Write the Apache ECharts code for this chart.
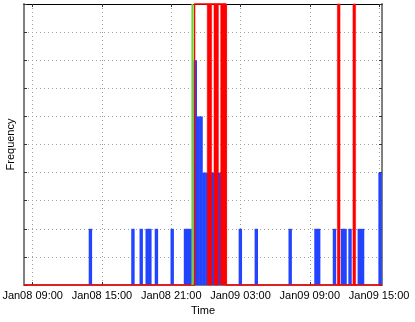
<!DOCTYPE html>
<html>
<head>
<meta charset="utf-8">
<script src="https://cdn.jsdelivr.net/npm/echarts@6/dist/echarts.min.js"></script>
<style>
html, body { margin: 0; padding: 0; background: #fff; }
#chart { width: 415px; height: 322px; }
</style>
</head>
<body>
<div id="chart"></div>
<script>
// axis range and tick labels
var timeMin = '2008-01-08 08:15';
var timeMax = '2008-01-09 15:15';
var timeTicks = ['2008-01-08 09:00', '2008-01-08 15:00', '2008-01-08 21:00',
	'2008-01-09 03:00', '2008-01-09 09:00', '2008-01-09 15:00'];

// blue histogram (15 min bins, bin centre time)
var binTimes = ['2008-01-08 14:00', '2008-01-08 17:41', '2008-01-08 18:24', '2008-01-08 18:55',
	'2008-01-08 19:09', '2008-01-08 19:43', '2008-01-08 21:05', '2008-01-08 22:14',
	'2008-01-08 22:29', '2008-01-08 22:44', '2008-01-08 23:05', '2008-01-08 23:20',
	'2008-01-08 23:35', '2008-01-08 23:50', '2008-01-09 00:05', '2008-01-09 00:20',
	'2008-01-09 00:35', '2008-01-09 00:50', '2008-01-09 01:05', '2008-01-09 01:20',
	'2008-01-09 02:59', '2008-01-09 04:22', '2008-01-09 07:18', '2008-01-09 09:32',
	'2008-01-09 09:46', '2008-01-09 11:08', '2008-01-09 11:50', '2008-01-09 12:03',
	'2008-01-09 12:29', '2008-01-09 13:17', '2008-01-09 13:34', '2008-01-09 15:05'];
var binCounts = [1, 1, 1, 1, 1, 1, 1, 1, 1, 1, 4, 3, 3, 2, 2, 2, 2, 2, 2, 2,
	1, 1, 1, 1, 1, 1, 1, 1, 1, 1, 1, 2];

// red alarm: outline span and solid spans
var redOutline = [['2008-01-08 23:01', '2008-01-09 01:44']];
var redSolid = [['2008-01-09 00:07', '2008-01-09 00:30'],
	['2008-01-09 00:42', '2008-01-09 01:05'],
	['2008-01-09 01:17', '2008-01-09 01:48'],
	['2008-01-09 11:23', '2008-01-09 11:37'],
	['2008-01-09 12:44', '2008-01-09 12:58']];

// green marker
var greenTime = '2008-01-08 22:50';

var yMax = 5;

function toMs(s) {
	return new Date(s.replace(' ', 'T')).getTime();
}
function pad(n) {
	return n < 10 ? '0' + n : '' + n;
}
var months = ['Jan', 'Feb', 'Mar', 'Apr', 'May', 'Jun', 'Jul', 'Aug', 'Sep', 'Oct', 'Nov', 'Dec'];

function spanLine(spans) {
	var pts = [[toMs(timeMin), 0]];
	spans.forEach(function(s) {
		pts.push([toMs(s[0]), 0], [toMs(s[0]), yMax], [toMs(s[1]), yMax], [toMs(s[1]), 0]);
	});
	pts.push([toMs(timeMax), 0]);
	return pts;
}

var tickMs = timeTicks.map(toMs);
var font = 'Liberation Sans, Arial, sans-serif';
var gridLine = { show : true, lineStyle : { type : [1, 3], color : '#a0a0a0', width : 1 } };

var option = {
	animation : false,
	grid : { left : 24, right : 33, top : 4, bottom : 37, outerBoundsMode : 'none' },
	xAxis : [ {
		type : 'value',
		min : toMs(timeMin),
		max : toMs(timeMax),
		position : 'bottom',
		axisLine : { onZero : false, lineStyle : { color : '#808080', width : 2 } },
		axisTick : { customValues : tickMs, inside : true, length : 3, lineStyle : { color : '#333' } },
		axisLabel : {
			customValues : tickMs,
			fontSize : 11,
			fontFamily : font,
			color : '#000',
			margin : 5,
			formatter : function(v) {
				var d = new Date(v);
				return months[d.getMonth()] + pad(d.getDate()) + ' ' + pad(d.getHours()) + ':' + pad(d.getMinutes());
			}
		},
		splitLine : gridLine,
		name : 'Time',
		nameLocation : 'middle',
		nameGap : 18,
		nameTextStyle : { fontSize : 11, fontFamily : font, color : '#000' }
	}, {
		type : 'value',
		min : toMs(timeMin),
		max : toMs(timeMax),
		position : 'top',
		axisLine : { onZero : false, lineStyle : { color : '#000', width : 1 } },
		axisTick : { customValues : tickMs, inside : true, length : 3, lineStyle : { color : '#333' } },
		axisLabel : { show : false },
		splitLine : { show : false }
	} ],
	yAxis : [ {
		type : 'value',
		min : 0,
		max : yMax,
		interval : 0.5,
		axisLine : { show : true, onZero : false, lineStyle : { color : '#808080', width : 2 } },
		axisTick : { show : true, inside : true, length : 3, lineStyle : { color : '#333' } },
		axisLabel : { show : false },
		splitLine : gridLine,
		name : 'Frequency',
		nameLocation : 'middle',
		nameGap : 8,
		nameTextStyle : { fontSize : 11, fontFamily : font, color : '#000' }
	}, {
		type : 'value',
		min : 0,
		max : yMax,
		interval : 0.5,
		position : 'right',
		axisLine : { show : true, onZero : false, lineStyle : { color : '#808080', width : 2 } },
		axisTick : { show : true, inside : true, length : 3, lineStyle : { color : '#333' } },
		axisLabel : { show : false },
		splitLine : { show : false }
	} ],
	series : [ {
		name : 'count',
		type : 'bar',
		barWidth : 3.4,
		z : 2,
		itemStyle : { color : '#2244ff' },
		data : binTimes.map(function(t, i) { return [toMs(t), binCounts[i]]; })
	}, {
		name : 'alarm solid',
		type : 'custom',
		z : 3,
		renderItem : function(params, api) {
			var p0 = api.coord([api.value(0), yMax]);
			var p1 = api.coord([api.value(1), 0]);
			return {
				type : 'rect',
				shape : { x : p0[0], y : p0[1], width : p1[0] - p0[0], height : p1[1] - p0[1] },
				style : { fill : '#ff0000', stroke : '#ff0000', lineWidth : 0.5 }
			};
		},
		encode : { x : [0, 1] },
		data : redSolid.map(function(s) { return [toMs(s[0]), toMs(s[1])]; })
	}, {
		name : 'alarm',
		type : 'line',
		z : 4,
		clip : false,
		symbol : 'none',
		lineStyle : { color : '#ff0000', width : 1.5 },
		data : spanLine(redOutline)
	}, {
		name : 'marker',
		type : 'line',
		z : 5,
		clip : false,
		symbol : 'none',
		lineStyle : { color : '#62dc20', width : 2 },
		data : [[toMs(greenTime), 0], [toMs(greenTime), yMax]]
	} ]
};

var myChart = echarts.init(document.getElementById('chart'));
myChart.setOption(option);
</script>
</body>
</html>
